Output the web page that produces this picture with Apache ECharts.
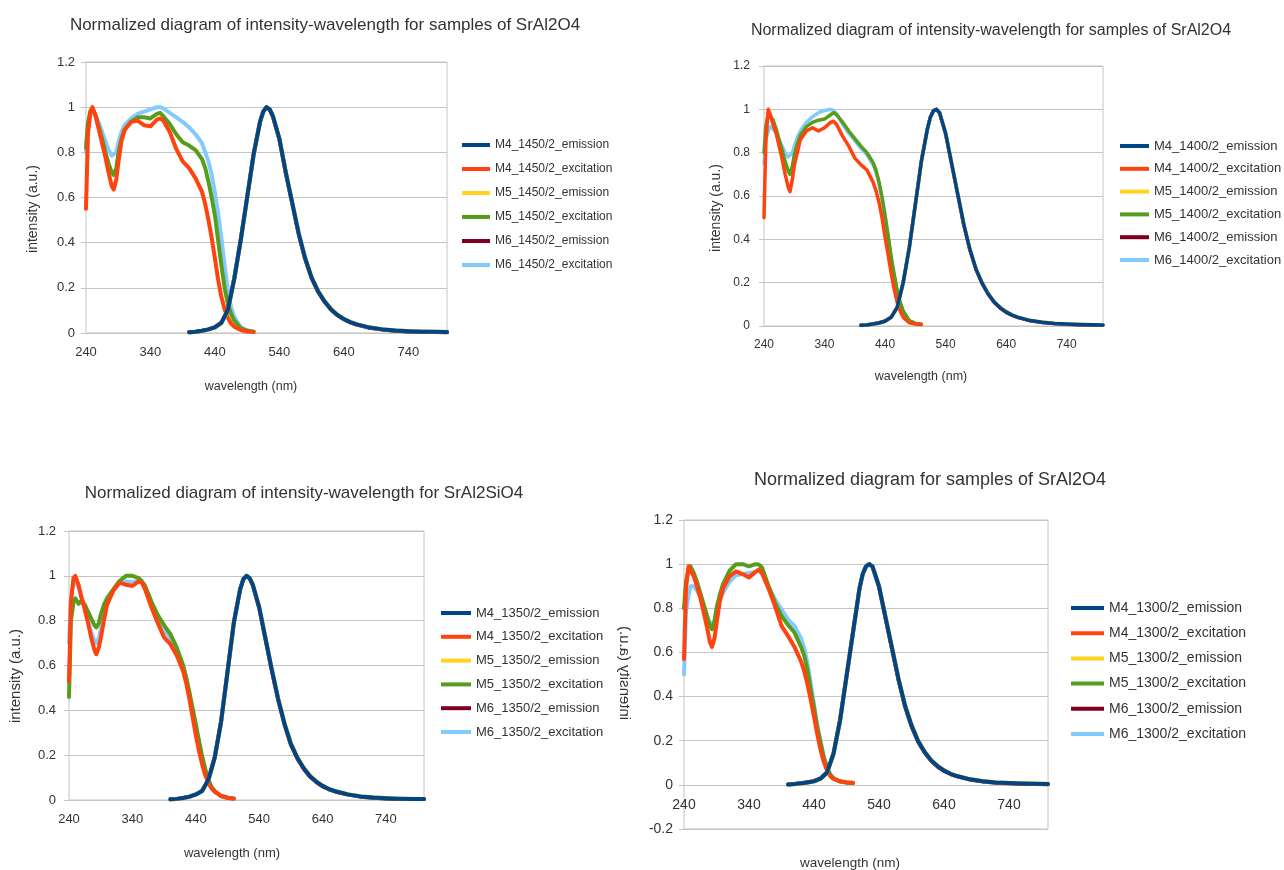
<!DOCTYPE html>
<html>
<head>
<meta charset="utf-8">
<script src="https://cdn.jsdelivr.net/npm/echarts@6.0.0/dist/echarts.min.js"></script>
<style>
  html, body { margin: 0; padding: 0; background: #ffffff; }
  #chart { width: 1284px; height: 870px; }
</style>
</head>
<body>
<div id="chart"></div>
<script>
// ---- wavelength grids (nm) ----
const EXCITATION_NM = [240,243,247,250,255,260,265,270,275,280,283,287,290,295,300,310,320,330,340,350,355,360,370,380,390,400,410,420,425,430,435,440,445,450,455,460,465,470,480,490,500];
const EMISSION_NM = [400,410,420,430,440,450,460,470,480,490,500,510,515,520,525,530,540,550,560,570,580,590,600,610,620,630,640,650,660,680,700,720,740,760,780,800];

// ---- titles and labels ----
const TITLE_1450 = 'Normalized diagram of intensity-wavelength for samples of SrAl2O4';
const TITLE_1400 = 'Normalized diagram of intensity-wavelength for samples of SrAl2O4';
const TITLE_1350 = 'Normalized diagram of intensity-wavelength for SrAl2SiO4';
const TITLE_1300 = 'Normalized diagram for samples of SrAl2O4';
const X_NAME = 'wavelength (nm)';
const Y_NAME = 'intensity (a.u.)';
const X_TICK_LABELS = [240, 340, 440, 540, 640, 740];

// ---- 1450/2 samples ----
const M4_1450_EM = [0.003,0.006,0.01,0.016,0.025,0.045,0.1,0.24,0.41,0.6,0.79,0.935,0.98,1.0,0.99,0.96,0.86,0.71,0.575,0.44,0.33,0.245,0.185,0.14,0.105,0.08,0.062,0.048,0.038,0.024,0.016,0.011,0.008,0.006,0.005,0.004];
const M5_1450_EM = [0.002,0.005,0.009,0.015,0.024,0.043,0.097,0.236,0.405,0.597,0.788,0.934,0.979,1.0,0.991,0.962,0.863,0.714,0.578,0.443,0.333,0.248,0.187,0.142,0.107,0.082,0.063,0.049,0.039,0.025,0.017,0.012,0.009,0.007,0.005,0.005];
const M6_1450_EM = [0.003,0.006,0.01,0.016,0.026,0.046,0.102,0.243,0.412,0.602,0.792,0.937,0.981,1.0,0.989,0.958,0.858,0.708,0.573,0.438,0.328,0.243,0.183,0.139,0.104,0.079,0.061,0.047,0.037,0.023,0.015,0.01,0.007,0.005,0.004,0.003];
const M4_1450_EX = [0.55,0.88,0.98,1.0,0.96,0.9,0.84,0.78,0.71,0.65,0.635,0.68,0.75,0.85,0.9,0.935,0.94,0.92,0.915,0.945,0.95,0.94,0.89,0.815,0.76,0.73,0.685,0.625,0.57,0.5,0.42,0.33,0.235,0.16,0.105,0.068,0.042,0.028,0.013,0.007,0.005];
const M5_1450_EX = [0.82,0.93,0.985,0.995,0.96,0.91,0.86,0.8,0.75,0.71,0.7,0.73,0.79,0.86,0.9,0.935,0.955,0.955,0.95,0.97,0.975,0.96,0.925,0.88,0.845,0.83,0.81,0.77,0.73,0.67,0.6,0.52,0.41,0.3,0.2,0.13,0.085,0.055,0.022,0.01,0.006];
const M6_1450_EX = [0.8,0.92,0.975,0.99,0.965,0.93,0.89,0.85,0.81,0.785,0.78,0.8,0.84,0.89,0.92,0.95,0.97,0.98,0.99,1.0,1.0,0.995,0.975,0.955,0.935,0.91,0.88,0.84,0.8,0.76,0.7,0.62,0.53,0.42,0.3,0.19,0.115,0.07,0.025,0.012,0.006];

// ---- 1400/2 samples ----
const M4_1400_EM = [0.003,0.005,0.009,0.014,0.022,0.04,0.085,0.2,0.36,0.56,0.76,0.91,0.965,0.993,1.0,0.985,0.89,0.75,0.61,0.47,0.355,0.265,0.2,0.15,0.112,0.085,0.065,0.05,0.04,0.025,0.017,0.012,0.009,0.007,0.006,0.005];
const M5_1400_EM = [0.002,0.005,0.008,0.013,0.021,0.039,0.083,0.197,0.356,0.557,0.758,0.909,0.964,0.992,1.0,0.987,0.893,0.754,0.614,0.474,0.358,0.268,0.203,0.152,0.114,0.087,0.067,0.051,0.041,0.026,0.018,0.013,0.01,0.008,0.007,0.006];
const M6_1400_EM = [0.003,0.006,0.009,0.015,0.023,0.041,0.087,0.203,0.363,0.562,0.762,0.912,0.966,0.994,1.0,0.983,0.887,0.747,0.607,0.467,0.352,0.262,0.198,0.148,0.11,0.083,0.063,0.049,0.039,0.024,0.016,0.011,0.008,0.006,0.005,0.004];
const M4_1400_EX = [0.5,0.85,1.0,0.98,0.93,0.89,0.83,0.77,0.7,0.64,0.62,0.68,0.74,0.8,0.86,0.9,0.915,0.9,0.915,0.94,0.945,0.93,0.875,0.83,0.775,0.745,0.72,0.665,0.625,0.57,0.5,0.41,0.33,0.245,0.17,0.11,0.068,0.04,0.015,0.009,0.007];
const M5_1400_EX = [0.8,0.92,0.98,0.985,0.95,0.91,0.86,0.81,0.76,0.715,0.7,0.74,0.79,0.84,0.88,0.92,0.94,0.95,0.955,0.975,0.985,0.975,0.94,0.9,0.865,0.83,0.8,0.755,0.72,0.665,0.595,0.51,0.42,0.32,0.24,0.165,0.11,0.07,0.025,0.012,0.008];
const M6_1400_EX = [0.75,0.86,0.9,0.92,0.91,0.89,0.86,0.83,0.8,0.78,0.775,0.8,0.83,0.87,0.9,0.94,0.965,0.985,0.995,1.0,0.995,0.98,0.93,0.89,0.855,0.82,0.79,0.745,0.71,0.655,0.585,0.5,0.41,0.31,0.23,0.155,0.1,0.064,0.023,0.011,0.007];

// ---- 1350/2 samples ----
const M4_1350_EM = [0.003,0.005,0.009,0.015,0.024,0.04,0.09,0.19,0.35,0.57,0.79,0.94,0.985,1.0,0.99,0.96,0.86,0.72,0.58,0.45,0.34,0.25,0.19,0.143,0.107,0.082,0.063,0.049,0.039,0.025,0.016,0.011,0.008,0.006,0.005,0.004];
const M5_1350_EM = [0.002,0.004,0.008,0.014,0.023,0.039,0.088,0.187,0.347,0.568,0.789,0.94,0.986,1.0,0.991,0.962,0.863,0.724,0.584,0.454,0.344,0.254,0.193,0.146,0.109,0.084,0.065,0.05,0.04,0.026,0.017,0.012,0.009,0.007,0.006,0.005];
const M6_1350_EM = [0.003,0.005,0.009,0.015,0.025,0.041,0.092,0.193,0.353,0.572,0.792,0.942,0.984,1.0,0.989,0.958,0.857,0.717,0.577,0.447,0.337,0.247,0.187,0.141,0.105,0.08,0.061,0.048,0.038,0.024,0.015,0.01,0.007,0.005,0.004,0.004];
const M4_1350_EX = [0.53,0.88,0.99,1.0,0.96,0.9,0.85,0.79,0.725,0.67,0.65,0.68,0.72,0.8,0.87,0.935,0.97,0.96,0.955,0.975,0.97,0.94,0.86,0.79,0.725,0.695,0.645,0.575,0.52,0.45,0.37,0.29,0.22,0.16,0.11,0.075,0.052,0.036,0.018,0.01,0.006];
const M5_1350_EX = [0.46,0.8,0.88,0.9,0.875,0.89,0.87,0.84,0.81,0.78,0.77,0.79,0.825,0.87,0.9,0.94,0.978,1.0,1.0,0.99,0.975,0.955,0.885,0.825,0.78,0.74,0.68,0.6,0.545,0.48,0.41,0.34,0.265,0.195,0.138,0.09,0.058,0.04,0.018,0.01,0.007];
const M6_1350_EX = [0.7,0.9,0.97,0.98,0.95,0.9,0.85,0.8,0.75,0.71,0.7,0.72,0.76,0.83,0.88,0.935,0.97,0.975,0.97,0.98,0.975,0.95,0.875,0.81,0.755,0.72,0.67,0.6,0.54,0.47,0.395,0.315,0.24,0.175,0.12,0.08,0.055,0.038,0.018,0.01,0.006];

// ---- 1300/2 samples ----
const M4_1300_EM = [0.002,0.004,0.007,0.011,0.016,0.028,0.055,0.14,0.29,0.49,0.69,0.89,0.955,0.99,1.0,0.99,0.9,0.76,0.62,0.48,0.36,0.27,0.2,0.15,0.112,0.085,0.065,0.05,0.04,0.025,0.016,0.011,0.008,0.006,0.005,0.004];
const M5_1300_EM = [0.002,0.003,0.006,0.01,0.015,0.027,0.053,0.137,0.287,0.487,0.688,0.889,0.954,0.99,1.0,0.991,0.903,0.764,0.624,0.484,0.364,0.274,0.203,0.153,0.114,0.087,0.067,0.051,0.041,0.026,0.017,0.012,0.009,0.007,0.006,0.005];
const M6_1300_EM = [0.002,0.004,0.007,0.012,0.017,0.029,0.057,0.143,0.293,0.493,0.692,0.891,0.956,0.99,1.0,0.988,0.897,0.756,0.616,0.476,0.356,0.266,0.197,0.148,0.11,0.083,0.063,0.049,0.039,0.024,0.015,0.01,0.007,0.005,0.004,0.003];
const M4_1300_EX = [0.57,0.89,0.99,0.99,0.945,0.9,0.85,0.785,0.72,0.645,0.625,0.665,0.73,0.83,0.89,0.945,0.967,0.955,0.94,0.965,0.975,0.96,0.89,0.81,0.72,0.675,0.625,0.56,0.515,0.455,0.385,0.31,0.23,0.16,0.105,0.065,0.04,0.027,0.016,0.012,0.01];
const M5_1300_EX = [0.8,0.92,0.98,0.99,0.96,0.92,0.87,0.82,0.77,0.72,0.705,0.74,0.8,0.86,0.91,0.97,1.0,1.0,0.99,1.0,0.998,0.985,0.9,0.825,0.765,0.725,0.69,0.625,0.585,0.52,0.43,0.35,0.26,0.19,0.125,0.078,0.045,0.03,0.015,0.01,0.008];
const M6_1300_EX = [0.5,0.78,0.86,0.9,0.9,0.88,0.85,0.8,0.76,0.725,0.72,0.745,0.79,0.84,0.87,0.92,0.95,0.955,0.96,0.965,0.97,0.955,0.9,0.84,0.795,0.75,0.72,0.665,0.62,0.55,0.46,0.365,0.27,0.2,0.13,0.08,0.048,0.03,0.015,0.01,0.008];

// ---- styling ----
const FONT = '"Liberation Sans", Arial, sans-serif';
const TEXT_COLOR = '#333333';
const GRID_COLOR = '#c4c4c4';
const COLORS = {
  M4_emission: '#004586', M4_excitation: '#ff420e',
  M5_emission: '#ffd320', M5_excitation: '#579d1c',
  M6_emission: '#7e0021', M6_excitation: '#83caff'
};
// stacking: excitation under emission; M4 drawn above M5 above M6
const Z_ORDER = {
  M6_excitation: 2, M5_excitation: 3, M4_excitation: 4,
  M6_emission: 5, M5_emission: 6, M4_emission: 7
};
const Y_MAX = 1.2;

const PANELS = [
  {
    tag: '1450', title: TITLE_1450,
    curves: { M4: [M4_1450_EM, M4_1450_EX], M5: [M5_1450_EM, M5_1450_EX], M6: [M6_1450_EM, M6_1450_EX] },
    grid: { left: 86, top: 62, width: 361, height: 271 }, yMin: 0,
    tickFont: 13, xMargin: 13, yMargin: 11, lineWidth: 4,
    titlePos: { x: 325, y: 25, size: 17 },
    xNamePos: { x: 251, y: 387, size: 12.5 },
    yNamePos: { x: 33, y: 209, size: 14, mirrored: false },
    legend: { left: 462, top: 137, gap: 8, iconW: 28, size: 12 }
  },
  {
    tag: '1400', title: TITLE_1400,
    curves: { M4: [M4_1400_EM, M4_1400_EX], M5: [M5_1400_EM, M5_1400_EX], M6: [M6_1400_EM, M6_1400_EX] },
    grid: { left: 764, top: 66, width: 339, height: 260 }, yMin: 0,
    tickFont: 12, xMargin: 13, yMargin: 14, lineWidth: 3.5,
    titlePos: { x: 991, y: 31, size: 16 },
    xNamePos: { x: 921, y: 377, size: 12.5 },
    yNamePos: { x: 716, y: 208, size: 14, mirrored: false },
    legend: { left: 1120, top: 138, gap: 6.8, iconW: 29, size: 13 }
  },
  {
    tag: '1350', title: TITLE_1350,
    curves: { M4: [M4_1350_EM, M4_1350_EX], M5: [M5_1350_EM, M5_1350_EX], M6: [M6_1350_EM, M6_1350_EX] },
    grid: { left: 69, top: 531, width: 355, height: 269 }, yMin: 0,
    tickFont: 13, xMargin: 13, yMargin: 13, lineWidth: 4,
    titlePos: { x: 304, y: 493, size: 17 },
    xNamePos: { x: 232, y: 853, size: 13 },
    yNamePos: { x: 16, y: 676, size: 15, mirrored: false },
    legend: { left: 441, top: 605, gap: 7.8, iconW: 30, size: 13 }
  },
  {
    tag: '1300', title: TITLE_1300,
    curves: { M4: [M4_1300_EM, M4_1300_EX], M5: [M5_1300_EM, M5_1300_EX], M6: [M6_1300_EM, M6_1300_EX] },
    grid: { left: 684, top: 520, width: 364, height: 309 }, yMin: -0.2,
    tickFont: 14, xMargin: 13, yMargin: 11, lineWidth: 4,
    titlePos: { x: 930, y: 480, size: 18 },
    xNamePos: { x: 850, y: 863, size: 13.5 },
    yNamePos: { x: 624, y: 673, size: 15, mirrored: true },
    legend: { left: 1071, top: 600, gap: 9.2, iconW: 33, size: 14 }
  }
];

const LEGEND_ROW = 16;

function pairs(xs, ys) {
  return xs.map((x, i) => [x, ys[i]]);
}

function textEl(str, x, y, size, rotation, mirrored) {
  const el = {
    type: 'text', x: x, y: y, silent: true,
    style: {
      text: str, fill: TEXT_COLOR,
      font: size + 'px ' + FONT,
      align: 'center', verticalAlign: 'middle',
      textAlign: 'center', textVerticalAlign: 'middle'
    }
  };
  if (rotation) el.rotation = rotation;
  if (mirrored) el.scaleY = -1;
  return el;
}

const grids = [], xAxes = [], yAxes = [], legends = [], series = [], graphics = [];

PANELS.forEach((p, i) => {
  grids.push({
    left: p.grid.left, top: p.grid.top, width: p.grid.width, height: p.grid.height,
    containLabel: false, outerBoundsMode: 'none',
    show: true, borderColor: GRID_COLOR, borderWidth: 1, backgroundColor: 'transparent'
  });

  // the wavelength axis sits on the zero line of the intensity axis
  const zeroShift = -p.grid.height * (0 - p.yMin) / (Y_MAX - p.yMin);
  xAxes.push({
    type: 'value', gridIndex: i, min: 240, max: 800, interval: 20,
    offset: zeroShift,
    axisLine: { show: true, onZero: false, lineStyle: { color: GRID_COLOR, width: 1 } },
    axisTick: { show: false },
    splitLine: { show: false },
    axisLabel: {
      show: true, margin: p.xMargin, color: TEXT_COLOR, fontFamily: FONT, fontSize: p.tickFont,
      showMaxLabel: false,
      formatter: v => (X_TICK_LABELS.indexOf(v) >= 0 ? String(v) : '')
    }
  });

  yAxes.push({
    type: 'value', gridIndex: i, min: p.yMin, max: Y_MAX, interval: 0.2,
    axisLine: { show: false },
    axisTick: { show: true, length: 5, lineStyle: { color: GRID_COLOR } },
    splitLine: { show: true, lineStyle: { color: GRID_COLOR, width: 1 } },
    axisLabel: { margin: p.yMargin, color: TEXT_COLOR, fontFamily: FONT, fontSize: p.tickFont }
  });

  const names = [];
  ['M4', 'M5', 'M6'].forEach(sample => {
    const [em, ex] = p.curves[sample];
    [['emission', em, EMISSION_NM], ['excitation', ex, EXCITATION_NM]].forEach(([kind, vals, nm]) => {
      const key = sample + '_' + kind;
      const name = sample + '_' + p.tag + '/2_' + kind;
      names.push(name);
      series.push({
        type: 'line', name: name, xAxisIndex: i, yAxisIndex: i,
        data: pairs(nm, vals),
        symbol: 'none', showSymbol: false,
        smooth: false,
        z: Z_ORDER[key],
        lineStyle: { width: p.lineWidth, color: COLORS[key], cap: 'round', join: 'round' },
        itemStyle: { color: COLORS[key] },
        emphasis: { disabled: true },
        silent: true, animation: false
      });
    });
  });
  // legend order: M4 emission, M4 excitation, M5 emission, ...
  legends.push({
    orient: 'vertical', left: p.legend.left, top: p.legend.top, padding: 0,
    itemGap: p.legend.gap, itemWidth: p.legend.iconW, itemHeight: 4, icon: 'rect',
    selectedMode: false, data: names,
    textStyle: { color: TEXT_COLOR, fontFamily: FONT, fontSize: p.legend.size, lineHeight: LEGEND_ROW }
  });

  graphics.push(textEl(p.title, p.titlePos.x, p.titlePos.y, p.titlePos.size));
  graphics.push(textEl(X_NAME, p.xNamePos.x, p.xNamePos.y, p.xNamePos.size));
  graphics.push(textEl(Y_NAME, p.yNamePos.x, p.yNamePos.y, p.yNamePos.size, Math.PI / 2, p.yNamePos.mirrored));
});

const chart = echarts.init(document.getElementById('chart'), null, { renderer: 'canvas' });
chart.setOption({
  backgroundColor: '#ffffff',
  animation: false,
  textStyle: { fontFamily: FONT },
  grid: grids,
  xAxis: xAxes,
  yAxis: yAxes,
  legend: legends,
  series: series,
  graphic: { elements: graphics }
});
</script>
</body>
</html>
